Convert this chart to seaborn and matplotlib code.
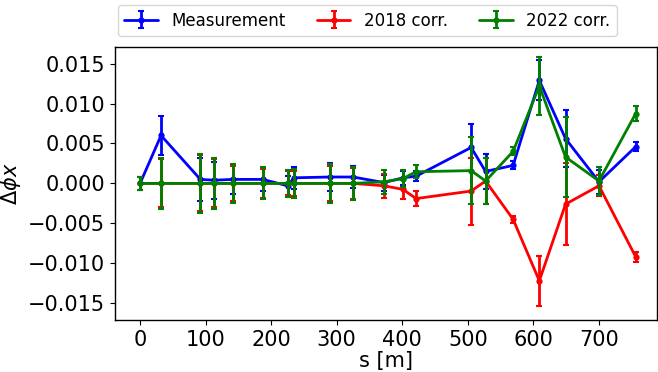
import numpy as np
import pandas as pd
import matplotlib
matplotlib.use("Agg")
import matplotlib.pyplot as plt
import seaborn as sns
from matplotlib.legend_handler import HandlerTuple

# BPM positions [m]
s = [0, 32, 92, 113, 142, 187, 225, 235, 289, 325, 372, 401, 421, 505, 527, 569, 609, 649, 700, 756]

meas = [0.0, 0.0060, 0.0005, 0.0004, 0.0005, 0.0005, -0.0003, 0.0007, 0.0008, 0.0008,
        0.0001, 0.0007, 0.0009, 0.0045, 0.0015, 0.00225, 0.0129, 0.0056, 0.0002, 0.0046]
meas_err = [0.0008, 0.0025, 0.0027, 0.0023, 0.0018, 0.0014, 0.0012, 0.0014, 0.0017, 0.0014,
            0.0010, 0.0009, 0.0006, 0.0030, 0.0022, 0.0005, 0.0025, 0.0036, 0.0015, 0.0006]

c2018 = [0.0, 0.0, 0.0, 0.0, 0.0, 0.0, 0.0, 0.0, 0.0, 0.0,
         -0.0003, -0.00075, -0.0019, -0.00096, 0.0003, -0.0045, -0.0122, -0.0026, -0.0003, -0.0092]
c2018_err = [0.0008, 0.0030, 0.0035, 0.0030, 0.0022, 0.0018, 0.0015, 0.0016, 0.0022, 0.0019,
             0.0015, 0.0012, 0.0009, 0.0042, 0.0029, 0.0004, 0.0031, 0.0051, 0.0013, 0.0006]

c2022 = [0.0, 0.0, 0.0, 0.0, 0.0, 0.0, 0.0, 0.0, 0.0, 0.0,
         0.0002, 0.0006, 0.00146, 0.0016, 0.0003, 0.0040, 0.0122, 0.0033, 0.0003, 0.00875]
c2022_err = [0.0008, 0.0032, 0.0037, 0.0032, 0.0024, 0.0020, 0.0017, 0.0018, 0.0024, 0.0021,
             0.0015, 0.0011, 0.0008, 0.0042, 0.0029, 0.0005, 0.0036, 0.0050, 0.0017, 0.0009]

series = [("Measurement", meas, meas_err, "blue"),
          ("2018 corr.", c2018, c2018_err, "red"),
          ("2022 corr.", c2022, c2022_err, "green")]

sns.set_style("ticks", {"text.color": "black", "axes.labelcolor": "black",
                        "xtick.color": "black", "ytick.color": "black",
                        "axes.edgecolor": "black"})
plt.rcParams["font.family"] = ["DejaVu Sans"]

fig = plt.figure(figsize=(6.58, 3.72), dpi=100)
ax = fig.add_axes([0.175, 0.140, 0.823, 0.734])

handles, labels = [], []
for name, vals, errs, col in series:
    df = pd.DataFrame({"s": s, "v": vals})
    sns.lineplot(data=df, x="s", y="v", ax=ax, color=col, lw=2, marker="o",
                 markersize=4.5, markeredgewidth=0, legend=False)
    line = ax.lines[-1]
    eb = ax.errorbar(s, vals, yerr=errs, fmt="none", ecolor=col, elinewidth=2,
                     capsize=2.5, capthick=1.5)
    handles.append((line, eb))
    labels.append(name)

ax.set_xlim(-38, 788)
ax.set_ylim(-0.0171, 0.0171)
ax.set_yticks([-0.015, -0.010, -0.005, 0.0, 0.005, 0.010, 0.015])
ax.set_xticks([0, 100, 200, 300, 400, 500, 600, 700])
ax.tick_params(labelsize=15)
ax.set_xlabel("s [m]", fontsize=15, labelpad=1)
ax.set_ylabel(r"$\Delta\phi x$", fontsize=15)
for sp in ax.spines.values():
    sp.set_visible(True)
    sp.set_linewidth(1.0)

fig.legend(handles, labels, handler_map={tuple: HandlerTuple(ndivide=1)},
           loc="upper center", bbox_to_anchor=(0.558, 1.0), ncol=3, fontsize=12,
           frameon=True, handlelength=2, columnspacing=1.9, handletextpad=0.8,
           borderaxespad=0.3)

fig.savefig("out.png", dpi=100)
